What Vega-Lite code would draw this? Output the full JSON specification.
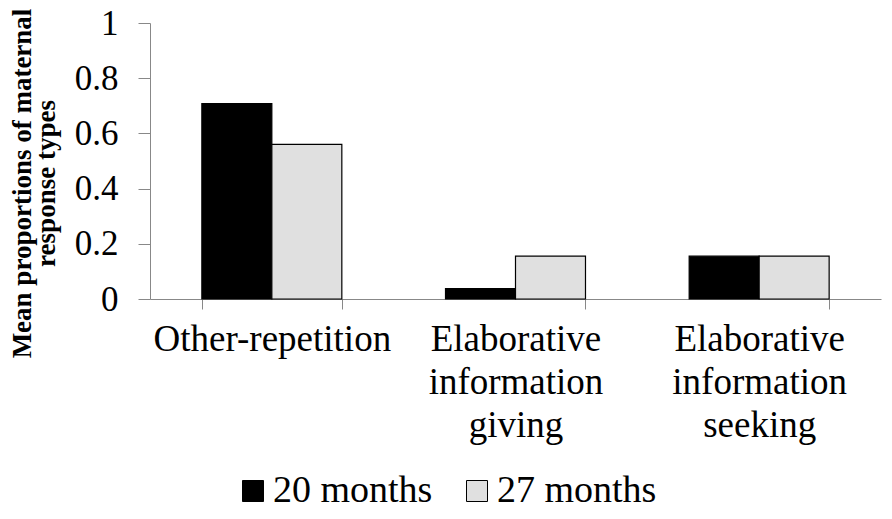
{
  "$schema": "https://vega.github.io/schema/vega-lite/v6.json",
  "width": 731,
  "height": 276,
  "autosize": {"type": "none"},
  "padding": {"left": 150, "top": 23, "right": 11, "bottom": 220},
  "data": {
    "values": [
      {"category": "Other-repetition", "age": "20 months", "proportion": 0.708},
      {"category": "Other-repetition", "age": "27 months", "proportion": 0.56},
      {"category": "Elaborative information giving", "age": "20 months", "proportion": 0.038},
      {"category": "Elaborative information giving", "age": "27 months", "proportion": 0.155},
      {"category": "Elaborative information seeking", "age": "20 months", "proportion": 0.155},
      {"category": "Elaborative information seeking", "age": "27 months", "proportion": 0.155}
    ]
  },
  "mark": {"type": "bar", "stroke": "#000000", "strokeWidth": 1.2},
  "encoding": {
    "x": {
      "field": "category",
      "type": "nominal",
      "sort": null,
      "scale": {"paddingInner": 0.4255, "paddingOuter": 0.2128},
      "axis": {
        "title": null,
        "labelAngle": 0,
        "labelFontSize": 37,
        "labelColor": "#000000",
        "labelLimit": 0,
        "labelBaseline": "top",
        "labelLineHeight": 43,
        "labelPadding": 12,
        "labelExpr": "!isValid(datum.value) ? '' : datum.value == 'Other-repetition' ? datum.value : split(datum.value, ' ')",
        "tickBand": "extent",
        "tickSize": 10,
        "tickColor": "#888888",
        "domainColor": "#888888"
      }
    },
    "xOffset": {"field": "age", "type": "nominal", "scale": {"paddingInner": 0}},
    "y": {
      "field": "proportion",
      "type": "quantitative",
      "scale": {"domain": [0, 1]},
      "axis": {
        "values": [0, 0.2, 0.4, 0.6, 0.8, 1],
        "format": "~g",
        "grid": false,
        "labelFontSize": 35,
        "labelColor": "#000000",
        "labelPadding": 20,
        "tickSize": 12,
        "tickColor": "#888888",
        "domainColor": "#888888",
        "title": ["Mean proportions of maternal", "response types"],
        "titleFontSize": 27,
        "titleFontWeight": "bold",
        "titleColor": "#000000",
        "titleX": -120,
        "titleY": 160,
        "titleAngle": -90,
        "titleAlign": "center",
        "titleBaseline": "alphabetic",
        "titleLineHeight": 24
      }
    },
    "fill": {
      "field": "age",
      "type": "nominal",
      "scale": {"domain": ["20 months", "27 months"], "range": ["#000000", "#e0e0e0"]},
      "legend": {
        "title": null,
        "orient": "none",
        "legendX": 84,
        "legendY": 449,
        "padding": 0,
        "direction": "horizontal",
        "symbolType": "square",
        "symbolSize": 441,
        "symbolStrokeColor": "#000000",
        "symbolStrokeWidth": 1,
        "labelFontSize": 38,
        "labelColor": "#000000",
        "labelOffset": 1,
        "columnPadding": 25
      }
    }
  },
  "config": {
    "view": {"stroke": null},
    "font": "Liberation Serif"
  }
}
